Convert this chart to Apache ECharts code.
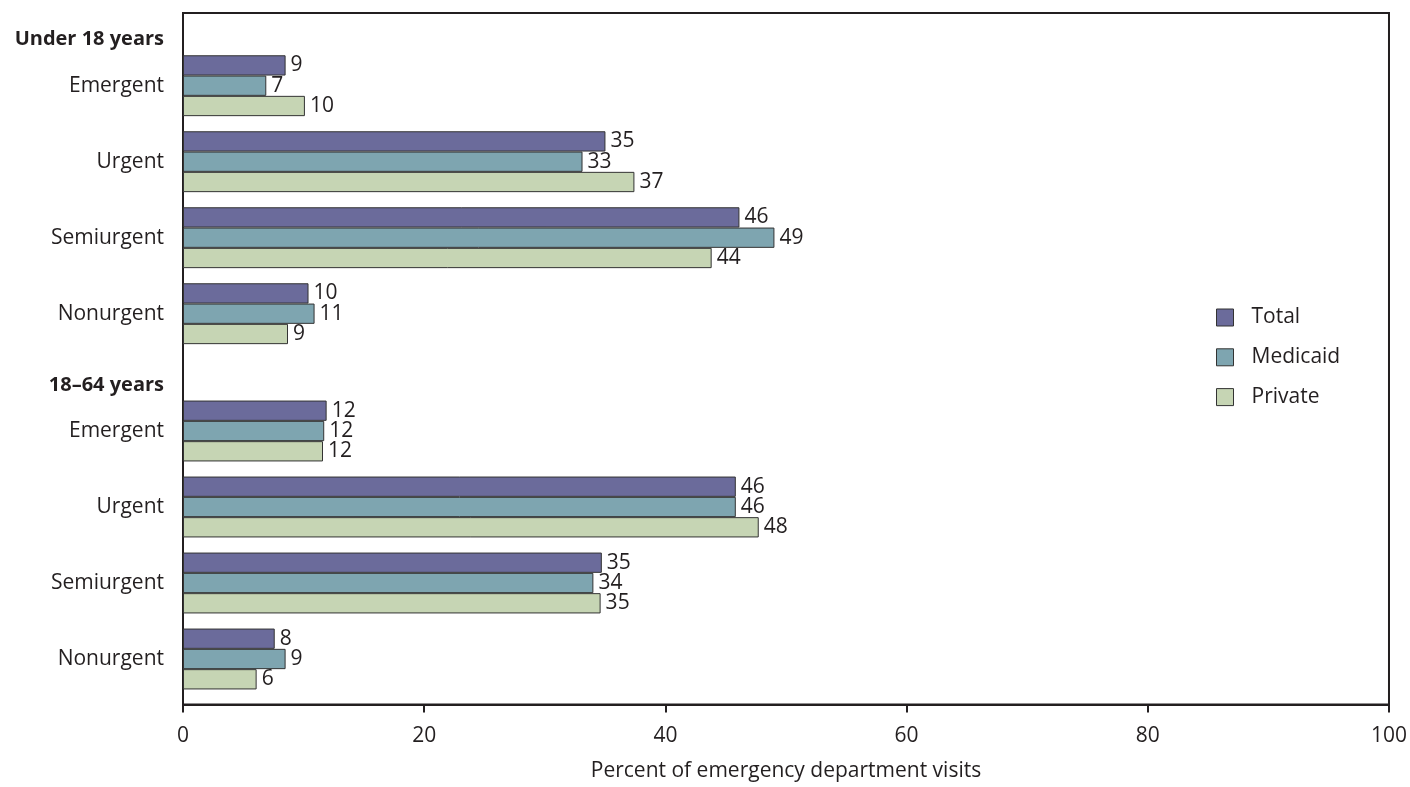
<!DOCTYPE html>
<html>
<head>
<meta charset="utf-8">
<script src="https://cdn.jsdelivr.net/npm/echarts@6/dist/echarts.min.js"></script>
<style>
html,body{margin:0;padding:0;background:#fff;}
#chart{width:1410px;height:787px;}
</style>
</head>
<body>
<div id="chart"></div>
<script>
const categories = ['Emergent', 'Urgent', 'Semiurgent', 'Nonurgent'];
const groupNames = ['Under 18 years', '18–64 years'];
const seriesNames = ['Total', 'Medicaid', 'Private'];

const under18Total    = [8.5, 35.0, 46.1, 10.4];
const under18Medicaid = [6.9, 33.1, 49.0, 10.9];
const under18Private  = [10.1, 37.4, 43.8, 8.7];

const adultTotal    = [11.9, 45.8, 34.7, 7.6];
const adultMedicaid = [11.7, 45.8, 34.0, 8.5];
const adultPrivate  = [11.6, 47.7, 34.6, 6.1];

const xMin = 0, xMax = 100, xInterval = 20;
const xAxisTitle = 'Percent of emergency department visits';

const colors = ['#6b6b9b', '#7ea5b0', '#c6d5b4'];
const ink = '#231f20';
const font = 'Open Sans';

const groupData = [
  [under18Total, under18Medicaid, under18Private],
  [adultTotal, adultMedicaid, adultPrivate]
];

const chart = echarts.init(document.getElementById('chart'), null, {renderer: 'canvas'});

const series = [];
groupData.forEach((grp, gi) => {
  grp.forEach((vals, si) => {
    series.push({
      name: seriesNames[si],
      type: 'bar',
      xAxisIndex: gi + 1,
      yAxisIndex: gi + 1,
      data: vals,
      barWidth: 20.3,
      barGap: '0%',
      itemStyle: {color: colors[si], borderColor: '#333', borderWidth: 1},
      label: {
        show: true, position: 'right', distance: 5,
        fontFamily: font, fontSize: 21, color: ink,
        formatter: p => String(Math.round(p.value))
      },
      emphasis: {disabled: true},
      animation: false
    });
  });
});

const subY = (gi) => ({
  type: 'category',
  gridIndex: gi + 1,
  data: categories,
  inverse: true,
  axisLine: {show: false},
  axisTick: {show: false},
  axisLabel: {fontFamily: font, fontSize: 21, color: ink, margin: 19},
  name: groupNames[gi],
  nameLocation: 'start',
  nameGap: 8,
  nameTextStyle: {fontFamily: font, fontSize: 20, fontWeight: 'bold', color: ink,
    align: 'right', verticalAlign: 'middle', padding: [0, 19, 0, 0]}
});

const subX = (gi) => ({
  type: 'value', gridIndex: gi + 1, min: xMin, max: xMax, interval: xInterval, show: false
});

chart.setOption({
  backgroundColor: '#fff',
  animation: false,
  legend: {
    data: seriesNames,
    orient: 'vertical',
    left: 1211, top: 302,
    itemWidth: 17, itemHeight: 17, itemGap: 18.8,
    icon: 'rect',
    itemStyle: {borderColor: '#333', borderWidth: 1},
    textStyle: {fontFamily: font, fontSize: 21, color: ink, padding: [0, 0, 0, 13]},
    selectedMode: false
  },
  grid: [
    {left: 183, right: 20, top: 13, bottom: 80, show: true, borderColor: ink, borderWidth: 2, containLabel: false},
    {left: 183, right: 20, top: 47.7, height: 304},
    {left: 183, right: 20, top: 393, height: 304}
  ],
  xAxis: [
    {
      type: 'value', gridIndex: 0, min: xMin, max: xMax, interval: xInterval,
      splitLine: {show: false},
      axisLine: {show: true, lineStyle: {color: ink, width: 2}},
      axisTick: {show: true, length: 8, lineStyle: {color: ink, width: 2}},
      axisLabel: {fontFamily: font, fontSize: 21, color: ink, margin: 21},
      name: xAxisTitle, nameLocation: 'middle', nameGap: 67,
      nameTextStyle: {fontFamily: font, fontSize: 21, color: ink, verticalAlign: 'middle'}
    },
    subX(0), subX(1)
  ],
  yAxis: [
    {type: 'value', gridIndex: 0, show: false},
    subY(0), subY(1)
  ],
  series: series
});
</script>
</body>
</html>
